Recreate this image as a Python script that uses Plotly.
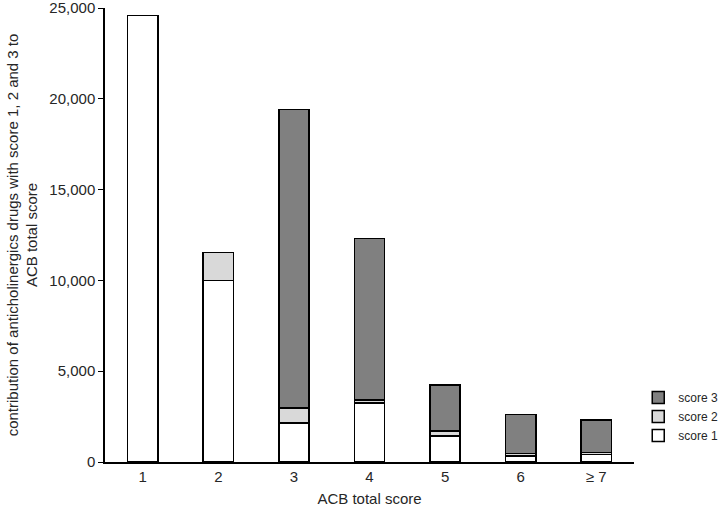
import plotly.graph_objects as go

categories = ["1", "2", "3", "4", "5", "6", "≥ 7"]
score1 = [24600, 10000, 2140, 3240, 1430, 330, 420]
score2 = [None, 1530, 830, 170, 290, 150, 110]
score3 = [None, None, 16430, 8900, 2510, 2140, 1780]

y_ticks = [0, 5000, 10000, 15000, 20000, 25000]

font_family = "Liberation Sans, Arial, sans-serif"

fig = go.Figure()
for name, vals, color in [("score 1", score1, "#ffffff"),
                          ("score 2", score2, "#d9d9d9"),
                          ("score 3", score3, "#808080")]:
    fig.add_trace(go.Bar(
        x=categories, y=vals, name=name,
        marker=dict(color=color, line=dict(color="#000000", width=1.5)),
    ))

fig.update_layout(
    width=719, height=511,
    barmode="stack",
    bargap=0.6,
    plot_bgcolor="white", paper_bgcolor="white",
    margin=dict(l=105, r=85, t=8, b=49, autoexpand=False),
    font=dict(family=font_family, size=15, color="#262626"),
    legend=dict(
        traceorder="reversed",
        x=1.008, xanchor="left",
        y=0.1, yanchor="middle",
        font=dict(size=12),
        itemwidth=30,
        tracegroupgap=2,
    ),
    xaxis=dict(
        type="category",
        automargin=False,
        showline=True, linecolor="#000000", linewidth=1.5,
        ticks="", showgrid=False,
        title=dict(text="ACB total score", standoff=10, font=dict(size=15)),
        tickfont=dict(size=15),
    ),
    yaxis=dict(
        automargin=False,
        range=[0, 25001],
        tickvals=y_ticks,
        tickformat=",",
        ticklabeloverflow="allow",
        showline=True, linecolor="#000000", linewidth=1.5,
        ticks="outside", ticklen=5, tickcolor="#000000",
        showgrid=False, zeroline=False,
        title=dict(text="contribution of anticholinergics drugs with score 1, 2 and 3 to<br>ACB total score",
                   standoff=8, font=dict(size=15)),
        tickfont=dict(size=15),
    ),
)

fig.write_html("out.html", config={"displayModeBar": False},
               post_script="document.body.style.margin='0px';")
